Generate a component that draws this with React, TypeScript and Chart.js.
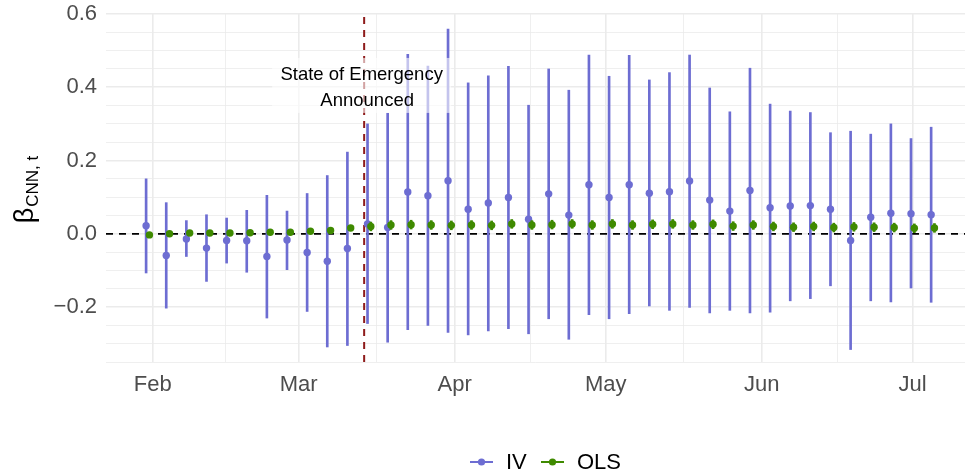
import React, { useEffect, useRef } from "react";
import { Chart, registerables } from "chart.js";

Chart.register(...registerables);

// ---------- data ----------
const periodDates = [
  "2020-01-31", "2020-02-04", "2020-02-08", "2020-02-12", "2020-02-16",
  "2020-02-20", "2020-02-24", "2020-02-28", "2020-03-03", "2020-03-07",
  "2020-03-11", "2020-03-15", "2020-03-19", "2020-03-23", "2020-03-27",
  "2020-03-31", "2020-04-04", "2020-04-08", "2020-04-12", "2020-04-16",
  "2020-04-20", "2020-04-24", "2020-04-28", "2020-05-02", "2020-05-06",
  "2020-05-10", "2020-05-14", "2020-05-18", "2020-05-22", "2020-05-26",
  "2020-05-30", "2020-06-03", "2020-06-07", "2020-06-11", "2020-06-15",
  "2020-06-19", "2020-06-23", "2020-06-27", "2020-07-01", "2020-07-05",
];

const ivEstimate = [
  0.022, -0.059, -0.014, -0.039, -0.018, -0.019, -0.062, -0.017, -0.051, -0.075,
  -0.040, 0.027, 0.017, 0.114, 0.104, 0.145, 0.067, 0.084, 0.099, 0.040,
  0.109, 0.051, 0.134, 0.099, 0.134, 0.111, 0.115, 0.144, 0.092, 0.062,
  0.118, 0.071, 0.076, 0.077, 0.067, -0.018, 0.045, 0.056, 0.055, 0.052,
];
const ivLower = [
  -0.107, -0.203, -0.062, -0.130, -0.080, -0.105, -0.230, -0.098, -0.212, -0.309,
  -0.305, -0.245, -0.296, -0.262, -0.250, -0.269, -0.276, -0.265, -0.259, -0.273,
  -0.232, -0.288, -0.221, -0.232, -0.218, -0.197, -0.209, -0.201, -0.216, -0.209,
  -0.216, -0.214, -0.183, -0.177, -0.142, -0.316, -0.183, -0.186, -0.148, -0.187,
];
const ivUpper = [
  0.150, 0.085, 0.036, 0.052, 0.043, 0.064, 0.105, 0.062, 0.110, 0.159,
  0.223, 0.300, 0.329, 0.490, 0.458, 0.559, 0.412, 0.431, 0.457, 0.351,
  0.450, 0.392, 0.488, 0.430, 0.487, 0.420, 0.440, 0.488, 0.398, 0.333,
  0.452, 0.354, 0.335, 0.331, 0.276, 0.280, 0.272, 0.300, 0.260, 0.291,
];

const olsEstimate = [
  -0.003, 0.000, 0.002, 0.002, 0.002, 0.003, 0.004, 0.004, 0.007, 0.009,
  0.016, 0.020, 0.024, 0.025, 0.024, 0.023, 0.024, 0.023, 0.027, 0.024,
  0.025, 0.027, 0.024, 0.027, 0.024, 0.026, 0.027, 0.024, 0.026, 0.021,
  0.024, 0.020, 0.018, 0.020, 0.017, 0.019, 0.018, 0.017, 0.015, 0.016,
];
const olsLower = [
  -0.008, -0.005, -0.003, -0.003, -0.003, -0.002, -0.001, -0.001, 0.002, 0.003,
  0.009, 0.008, 0.012, 0.013, 0.012, 0.011, 0.012, 0.011, 0.015, 0.012,
  0.013, 0.015, 0.012, 0.015, 0.012, 0.014, 0.015, 0.012, 0.014, 0.009,
  0.012, 0.008, 0.006, 0.008, 0.005, 0.007, 0.006, 0.005, 0.003, 0.004,
];
const olsUpper = [
  0.002, 0.005, 0.007, 0.007, 0.007, 0.008, 0.009, 0.009, 0.012, 0.015,
  0.023, 0.032, 0.036, 0.037, 0.036, 0.035, 0.036, 0.035, 0.039, 0.036,
  0.037, 0.039, 0.036, 0.039, 0.036, 0.038, 0.039, 0.036, 0.038, 0.033,
  0.036, 0.032, 0.030, 0.032, 0.029, 0.031, 0.030, 0.029, 0.027, 0.028,
];

const monthTickDates = ["2020-02-01", "2020-03-01", "2020-04-01", "2020-05-01", "2020-06-01", "2020-07-01"];
const monthTickLabels = ["Feb", "Mar", "Apr", "May", "Jun", "Jul"];

const yTickValues = [-0.2, 0.0, 0.2, 0.4, 0.6];
const yTickLabels = ["\u22120.2", "0.0", "0.2", "0.4", "0.6"];
const yGridValues = [
  -0.35, -0.3, -0.25, -0.2, -0.15, -0.1, -0.05, 0, 0.05, 0.1,
  0.15, 0.2, 0.25, 0.3, 0.35, 0.4, 0.45, 0.5, 0.55, 0.6,
];

const emergencyDate = "2020-03-14";
const annotationLines = ["State of Emergency", "Announced"];
const seriesNames = ["IV", "OLS"];

// ---------- styling ----------
const IV_COLOR = "#6d6dd2";
const OLS_COLOR = "#3f8a00";
const RED = "#8e1b1b";
const FONT = "'Liberation Sans', Arial, Helvetica, sans-serif";
const Y_MIN = -0.35;
const Y_MAX = 0.6;
const X_MIN = -9.3;
const X_MAX = 161.4;
const DODGE = 0.33;

const BASE = Date.UTC(2020, 1, 1);
function dayOf(s: string): number {
  const [y, m, d] = s.split("-").map(Number);
  return (Date.UTC(y, m - 1, d) - BASE) / 86400000;
}

const majorX = monthTickDates.map(dayOf);
const minorX: number[] = [];
for (let i = 0; i < majorX.length - 1; i++) minorX.push((majorX[i] + majorX[i + 1]) / 2);
const xGrid = [...majorX, ...minorX].sort((a, b) => a - b);

const isMajorX = (v: number) => majorX.some((m) => Math.abs(m - v) < 1e-6);
const isMajorY = (v: number) => yTickValues.some((m) => Math.abs(m - v) < 1e-6);

const overlayPlugin = {
  id: "overlay",
  afterDatasetsDraw(chart: any) {
    const { ctx, scales } = chart;
    const xs = scales.x;
    const ys = scales.y;
    const vx = xs.getPixelForValue(dayOf(emergencyDate));
    ctx.save();
    const top = ys.getPixelForValue(0.48);
    const bottom = ys.getPixelForValue(0.33);
    ctx.fillStyle = "rgba(255,255,255,0.6)";
    ctx.fillRect(vx - 92, top, 179, bottom - top);
    ctx.fillStyle = "#000";
    ctx.font = `18.5px ${FONT}`;
    ctx.textAlign = "center";
    ctx.textBaseline = "middle";
    ctx.fillText(annotationLines[0], vx - 2.5, ys.getPixelForValue(0.435));
    ctx.fillText(annotationLines[1], vx + 3, ys.getPixelForValue(0.362));
    ctx.restore();
  },
  afterDraw(chart: any) {
    const { ctx, chartArea } = chart;
    ctx.save();
    const cy = (chartArea.top + chartArea.bottom) / 2 + 2;
    ctx.translate(33, cy);
    ctx.rotate(-Math.PI / 2);
    ctx.fillStyle = "#000";
    ctx.textBaseline = "alphabetic";
    ctx.textAlign = "left";
    ctx.font = `27px ${FONT}`;
    const wb = ctx.measureText("\u03b2").width;
    ctx.font = `17px ${FONT}`;
    const ws = ctx.measureText("CNN, t").width;
    const start = -(wb + ws) / 2;
    ctx.font = `27px ${FONT}`;
    ctx.fillText("\u03b2", start, 0);
    ctx.font = `17px ${FONT}`;
    ctx.fillText("CNN, t", start + wb + 1, 5);
    ctx.restore();

    ctx.save();
    const ly = 462;
    const items = [
      { x: 470, color: IV_COLOR, label: seriesNames[0] },
      { x: 541, color: OLS_COLOR, label: seriesNames[1] },
    ];
    ctx.font = `22px ${FONT}`;
    ctx.textBaseline = "middle";
    ctx.textAlign = "left";
    for (const it of items) {
      ctx.strokeStyle = it.color;
      ctx.lineWidth = 2;
      ctx.beginPath();
      ctx.moveTo(it.x, ly);
      ctx.lineTo(it.x + 23, ly);
      ctx.stroke();
      ctx.fillStyle = it.color;
      ctx.beginPath();
      ctx.arc(it.x + 11.5, ly, 3.6, 0, Math.PI * 2);
      ctx.fill();
      ctx.fillStyle = "#000";
      ctx.fillText(it.label, it.x + 36, ly + 1);
    }
    ctx.restore();
  },
};

export default function App() {
  const ref = useRef<HTMLCanvasElement | null>(null);

  useEffect(() => {
    document.body.style.margin = "0";
    const canvas = ref.current;
    if (!canvas) return;
    const xs = periodDates.map(dayOf);

    const chart = new Chart(canvas, {
      type: "scatter",
      data: {
        datasets: [
          {
            type: "line",
            label: "zero",
            data: [
              { x: X_MIN, y: 0 },
              { x: X_MAX, y: 0 },
            ],
            borderColor: "#000",
            borderWidth: 1.8,
            borderDash: [7, 6],
            pointRadius: 0,
            order: 10,
          } as any,
          {
            type: "line",
            label: "emergency",
            data: [
              { x: dayOf(emergencyDate), y: Y_MIN },
              { x: dayOf(emergencyDate), y: Y_MAX },
            ],
            borderColor: RED,
            borderWidth: 2,
            borderDash: [7, 6],
            pointRadius: 0,
            order: 9,
          } as any,
          {
            type: "bar",
            label: "IV CI",
            data: xs.map((x, i) => ({ x: x - DODGE, y: [ivLower[i], ivUpper[i]] })),
            backgroundColor: IV_COLOR,
            borderWidth: 0,
            barThickness: 2,
            grouped: false,
            order: 5,
          } as any,
          {
            type: "scatter",
            label: "IV",
            data: xs.map((x, i) => ({ x: x - DODGE, y: ivEstimate[i] })),
            backgroundColor: IV_COLOR,
            borderWidth: 0,
            pointRadius: 3.7,
            order: 4,
          } as any,
          {
            type: "bar",
            label: "OLS CI",
            data: xs.map((x, i) => ({ x: x + DODGE, y: [olsLower[i], olsUpper[i]] })),
            backgroundColor: OLS_COLOR,
            borderWidth: 0,
            barThickness: 2,
            grouped: false,
            order: 3,
          } as any,
          {
            type: "scatter",
            label: "OLS",
            data: xs.map((x, i) => ({ x: x + DODGE, y: olsEstimate[i] })),
            backgroundColor: OLS_COLOR,
            borderWidth: 0,
            pointRadius: 3.7,
            order: 2,
          } as any,
        ],
      },
      options: {
        responsive: false,
        animation: false,
        devicePixelRatio: 1,
        events: [],
        layout: { padding: { top: 14, right: 2, left: 0, bottom: 0 }, autoPadding: false } as any,
        plugins: {
          legend: { display: false },
          tooltip: { enabled: false },
          title: { display: false },
        },
        scales: {
          x: {
            type: "linear",
            min: X_MIN,
            max: X_MAX,
            offset: false,
            border: { display: false },
            grid: {
              offset: false,
              drawTicks: false,
              color: "#ebebeb",
              lineWidth: (c: any) => (c.tick && isMajorX(c.tick.value) ? 1.6 : 0.8),
            },
            afterBuildTicks: (s: any) => {
              s.ticks = xGrid.map((v) => ({ value: v }));
            },
            afterFit: (s: any) => {
              s.height = 114;
              s.paddingLeft = 0;
              s.paddingRight = 0;
            },
            ticks: {
              autoSkip: false,
              maxRotation: 0,
              padding: 10,
              color: "#4d4d4d",
              font: { family: FONT, size: 22 },
              callback: (v: any) => {
                const i = majorX.findIndex((m) => Math.abs(m - Number(v)) < 1e-6);
                return i >= 0 ? monthTickLabels[i] : "";
              },
            },
          },
          y: {
            type: "linear",
            min: Y_MIN,
            max: Y_MAX,
            border: { display: false },
            grid: {
              drawTicks: false,
              color: "#ebebeb",
              lineWidth: (c: any) => (c.tick && isMajorY(c.tick.value) ? 1.6 : 0.8),
            },
            afterBuildTicks: (s: any) => {
              s.ticks = yGridValues.map((v) => ({ value: v }));
            },
            afterFit: (s: any) => {
              s.width = 106;
              s.paddingTop = 0;
              s.paddingBottom = 0;
            },
            ticks: {
              autoSkip: false,
              padding: 9,
              color: "#4d4d4d",
              font: { family: FONT, size: 22 },
              callback: (v: any) => {
                const i = yTickValues.findIndex((m) => Math.abs(m - Number(v)) < 1e-6);
                return i >= 0 ? yTickLabels[i] : "";
              },
            },
          },
        },
      } as any,
      plugins: [overlayPlugin],
    });

    return () => chart.destroy();
  }, []);

  return (
    <div style={{ width: 967, height: 476, background: "#fff" }}>
      <canvas ref={ref} width={967} height={476} style={{ display: "block", width: 967, height: 476 }} />
    </div>
  );
}
